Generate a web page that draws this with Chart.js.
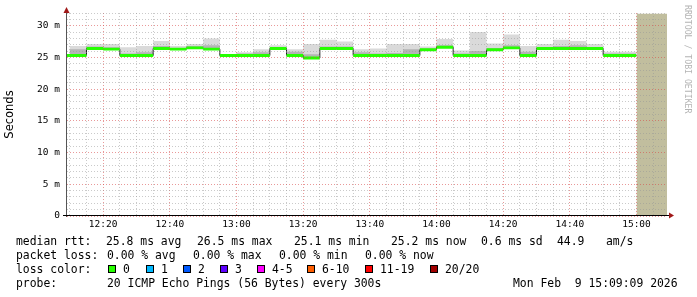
<!DOCTYPE html>
<html>
<head>
<meta charset="utf-8">
<script src="https://cdn.jsdelivr.net/npm/chart.js@4/dist/chart.umd.min.js"></script>
<style>
html, body { margin: 0; padding: 0; background: #fff; }
#wrap { position: relative; width: 697px; height: 297px; overflow: hidden; }
#chart { position: absolute; left: 0; top: 0; }
.lg { position: absolute; font: 11.4px "DejaVu Sans Mono", monospace; color: #000; white-space: pre; line-height: 14px; }
.box { position: absolute; width: 6px; height: 6px; border: 1px solid #000; }
#credit { position: absolute; left: 683px; top: 5px; writing-mode: vertical-rl; font: 8.2px "DejaVu Sans Mono", monospace; color: #b4b4b4; white-space: pre; }
</style>
</head>
<body>
<div id="wrap">
  <canvas id="chart" width="697" height="297"></canvas>
  <div id="credit">RRDTOOL / TOBI OETIKER</div>
</div>
<script>
// time window shown
const viewStart = '12:09:09';
const viewEnd = '15:09:09';

// 5 minute bins (last entry closes the final step)
const binStart = ['12:05','12:10','12:15','12:20','12:25','12:30','12:35','12:40','12:45','12:50','12:55',
  '13:00','13:05','13:10','13:15','13:20','13:25','13:30','13:35','13:40','13:45','13:50','13:55',
  '14:00','14:05','14:10','14:15','14:20','14:25','14:30','14:35','14:40','14:45','14:50','14:55','15:00'];

// median rtt (ms)
const medianRtt = [26.4,25.3,25.3,26.4,26.3,25.3,25.3,26.4,26.3,26.5,26.3,
  25.3,25.3,25.3,26.4,25.3,24.9,26.4,26.4,25.3,25.3,25.3,25.3,
  26.2,26.6,25.3,25.3,26.2,26.5,25.3,26.4,26.4,26.4,26.4,25.3];
// smoke: highest ping, top of the dense part, lowest ping (ms)
const smokeMax = [26.9,25.5,26.8,27.1,27.1,26.6,26.8,27.6,26.8,27.1,28.0,
  25.5,25.8,26.3,26.9,26.3,27.1,27.8,27.5,26.3,26.4,27.1,27.1,
  26.7,27.9,26.1,29.0,27.2,28.6,26.8,27.1,27.8,27.6,27.1,25.9];
const smokeMid = [26.6,25.4,26.3,26.7,26.6,25.6,25.8,26.8,26.5,26.8,26.9,
  25.4,25.6,25.8,26.6,25.9,25.5,26.7,26.7,25.8,25.6,25.7,26.3,
  26.4,26.9,25.6,26.0,26.5,26.9,25.9,26.6,26.8,26.9,26.6,25.6];
const smokeMin = [26.3,25.2,25.2,26.3,26.2,25.2,25.2,26.3,26.2,26.4,26.2,
  25.2,25.2,25.2,26.3,25.2,24.8,26.3,26.3,25.2,25.2,25.2,25.2,
  26.1,26.5,25.2,25.2,26.1,26.4,25.2,26.3,26.3,26.3,26.3,25.2];

// no data yet
const noDataStart = '15:00';
const noDataTop = 31.9;

const xTickLabels = ['12:20','12:40','13:00','13:20','13:40','14:00','14:20','14:40','15:00'];
const yTickLabels = ['0','5 m','10 m','15 m','20 m','25 m','30 m'];
const yMax = 32;

const lossLabels = ['0','1','2','3','4-5','6-10','11-19','20/20'];
const lossColors = ['#26ff00','#00b8ff','#0059ff','#5e00ff','#ff00ff','#ff5e00','#ff0000','#a10000'];

const toMin = function (t) {
  const p = t.split(':');
  return +p[0] * 60 + +p[1] + (p[2] ? +p[2] / 60 : 0);
};
const fmt = function (v) {
  const m = Math.round(v);
  return String(Math.floor(m / 60)).padStart(2, '0') + ':' + String(m % 60).padStart(2, '0');
};
const steps = function (arr, shift) {
  return binStart.map((t, i) => ({ x: toMin(t), y: arr[Math.min(i, arr.length - 1)] + (shift || 0) }));
};

const greenHalf = 0.23;
const majorGrid = 'rgba(215,70,70,0.55)';
const minorGrid = 'rgba(150,150,150,0.5)';

const hidden = { borderColor: 'transparent', borderWidth: 0, pointRadius: 0, fill: false, stepped: 'after' };

// axes with arrows, the way rrdtool draws them
const axesPlugin = {
  id: 'axes',
  afterDraw(chart) {
    const { ctx, chartArea: a } = chart;
    ctx.save();
    ctx.lineWidth = 1;
    ctx.strokeStyle = '#555';
    ctx.beginPath();
    ctx.moveTo(a.left - 0.5, a.bottom + 1);
    ctx.lineTo(a.left - 0.5, 9);
    ctx.stroke();
    ctx.strokeStyle = '#000';
    ctx.beginPath();
    ctx.moveTo(a.left - 4, a.bottom - 0.5);
    ctx.lineTo(a.right + 3, a.bottom - 0.5);
    ctx.stroke();
    ctx.fillStyle = '#a01818';
    ctx.beginPath();
    ctx.moveTo(a.left - 3.5, 13); ctx.lineTo(a.left + 2.5, 13); ctx.lineTo(a.left - 0.5, 7);
    ctx.closePath(); ctx.fill();
    ctx.beginPath();
    ctx.moveTo(a.right + 2, a.bottom - 3.5); ctx.lineTo(a.right + 2, a.bottom + 2.5); ctx.lineTo(a.right + 7, a.bottom - 0.5);
    ctx.closePath(); ctx.fill();
    ctx.restore();
  }
};

new Chart(document.getElementById('chart'), {
  type: 'line',
  data: {
    datasets: [
      Object.assign({}, hidden, { data: steps(smokeMin), order: 9 }),                  // 0
      { data: steps(smokeMax), stepped: 'after', pointRadius: 0, borderWidth: 0, borderColor: 'transparent',
        fill: { target: 0 }, backgroundColor: '#dadada', order: 8 },                     // 1
      { data: steps(smokeMid), stepped: 'after', pointRadius: 0, borderWidth: 0, borderColor: 'transparent',
        fill: { target: 0 }, backgroundColor: '#b4b4b4', order: 7 },                     // 2
      { data: steps(medianRtt), stepped: 'after', pointRadius: 0, borderWidth: 1, borderColor: '#202020',
        fill: false, order: 6 },                                                          // 3
      Object.assign({}, hidden, { data: steps(medianRtt, -greenHalf), order: 5 }),        // 4
      { data: steps(medianRtt, greenHalf), stepped: 'after', pointRadius: 0, borderWidth: 0, borderColor: 'transparent',
        fill: { target: 4 }, backgroundColor: lossColors[0], order: 4 },                 // 5
      { data: [{ x: toMin(noDataStart), y: noDataTop }, { x: toMin(viewEnd), y: noDataTop }],
        pointRadius: 0, borderWidth: 0, borderColor: 'transparent', fill: 'origin',
        backgroundColor: '#c1be9e', order: 3 }
    ]
  },
  options: {
    responsive: false,
    animation: false,
    devicePixelRatio: 1,
    layout: { padding: { left: 0, top: 13, right: 30, bottom: 57 } },
    plugins: { legend: { display: false }, tooltip: { enabled: false } },
    scales: {
      x: {
        type: 'linear',
        min: toMin(viewStart),
        max: toMin(viewEnd),
        afterFit: s => { s.height = 24; },
        afterBuildTicks: s => {
          const t = [];
          for (let v = 730; v < toMin(viewEnd); v += 5) t.push({ value: v });
          s.ticks = t;
        },
        grid: {
          z: 1,
          drawTicks: false,
          color: c => (c.tick && xTickLabels.indexOf(fmt(c.tick.value)) >= 0) ? majorGrid : minorGrid
        },
        border: { display: false, dash: [1, 2] },
        ticks: {
          autoSkip: false,
          maxRotation: 0,
          padding: 3,
          color: '#000',
          font: { family: 'DejaVu Sans Mono', size: 9.5 },
          callback: v => xTickLabels.indexOf(fmt(v)) >= 0 ? fmt(v) : ''
        }
      },
      y: {
        min: 0,
        max: yMax,
        afterFit: s => { s.width = 67; },
        grid: {
          z: 1,
          drawTicks: false,
          color: c => (c.tick && c.tick.value % 5 === 0) ? majorGrid : minorGrid
        },
        border: { display: false, dash: [1, 2] },
        ticks: {
          stepSize: 1,
          autoSkip: false,
          padding: 7,
          color: '#000',
          font: { family: 'DejaVu Sans Mono', size: 9.5 },
          callback: v => v % 5 === 0 ? yTickLabels[v / 5] : ''
        },
        title: {
          display: true,
          text: 'Seconds',
          color: '#000',
          padding: { top: 3, bottom: 0 },
          font: { family: 'DejaVu Sans', size: 11.5, weight: 'normal' }
        }
      }
    }
  },
  plugins: [axesPlugin]
});

// legend text below the graph
const wrap = document.getElementById('wrap');
const addText = function (x, y, text) {
  const d = document.createElement('div');
  d.className = 'lg';
  d.style.left = x + 'px';
  d.style.top = (y - 7) + 'px';
  d.textContent = text;
  wrap.appendChild(d);
};
const legendRows = [
  [241, [[16, 'median rtt:'], [106, '25.8 ms avg'], [197, '26.5 ms max'], [294, '25.1 ms min'],
         [391, '25.2 ms now'], [481, '0.6 ms sd'], [557, '44.9'], [606, 'am/s']]],
  [255, [[16, 'packet loss:'], [107, '0.00 % avg'], [193, '0.00 % max'], [279, '0.00 % min'], [365, '0.00 % now']]],
  [269, [[16, 'loss color:']]],
  [283, [[16, 'probe:'], [107, '20 ICMP Echo Pings (56 Bytes) every 300s'], [513, 'Mon Feb  9 15:09:09 2026']]]
];
legendRows.forEach(r => r[1].forEach(it => addText(it[0], r[0], it[1])));

const boxX = [108, 146, 183, 220, 257, 307, 365, 430];
lossLabels.forEach((lab, i) => {
  const b = document.createElement('div');
  b.className = 'box';
  b.style.left = boxX[i] + 'px';
  b.style.top = '265px';
  b.style.background = lossColors[i];
  wrap.appendChild(b);
  addText(boxX[i] + 15, 269, lab);
});
</script>
</body>
</html>
